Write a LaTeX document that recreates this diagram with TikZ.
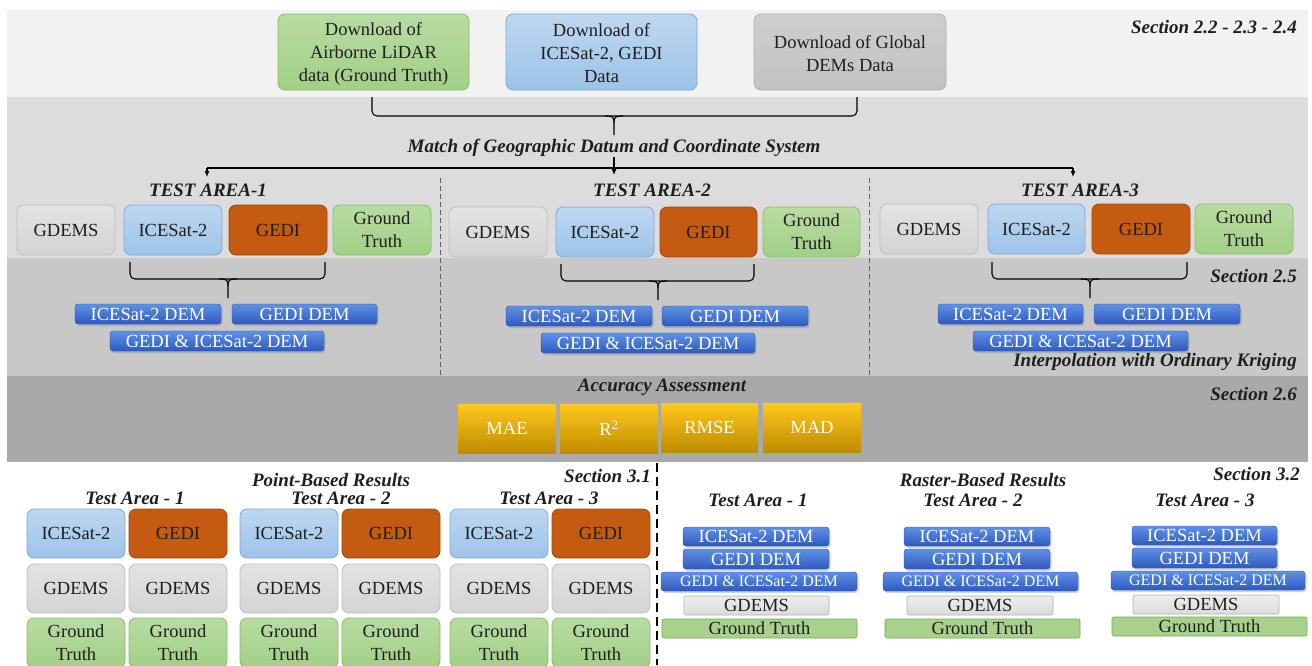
\documentclass[tikz,border=0pt]{standalone}
\usepackage{fontspec}
\setmainfont{Liberation Serif}
\usetikzlibrary{shadows,arrows.meta}
\definecolor{bandA}{HTML}{F2F2F2}
\definecolor{bandB}{HTML}{DCDCDC}
\definecolor{bandC}{HTML}{C8C8C8}
\definecolor{bandD}{HTML}{A9A9A9}
\definecolor{txt}{HTML}{1E1E1E}
\newcommand{\fsA}{\fontsize{18.5}{23}\selectfont}
\newcommand{\fsB}{\fontsize{19}{22}\selectfont\bfseries\itshape}
\newcommand{\fsC}{\fontsize{16}{19}\selectfont}
\newcommand{\bx}[7]{\node[#2,minimum width={(#5)-(#3)},minimum height={(#6)-(#4)}] (#1) at ({((#3)+(#5))/2},{((#4)+(#6))/2}) {#7};}
\newcommand{\brk}[7]{%
  \coordinate (#1L) at (#2,#5); \coordinate (#1R) at (#3,#5);
  \coordinate (#1T) at (#4,#7);
  \draw[conn,rounded corners=5pt] (#1L) -- (#2,#6) -- (#3,#6) -- (#1R);
  \draw[conn] ({#4-9},#6) .. controls ({#4-1},#6) and (#4,{#6+1}) .. (#4,{#6+7}) -- (#1T);
  \draw[conn] ({#4+9},#6) .. controls ({#4+1},#6) and (#4,{#6+1}) .. (#4,{#6+7});}
\begin{document}
\begin{tikzpicture}[x=1pt,y=-1pt,
  box/.style={rounded corners=7pt,line width=0.8pt,align=center,inner sep=1pt,font=\fsA,text=txt},
  graybox/.style={box,top color=gray!22,bottom color=gray!34,draw=gray!50},
  topgray/.style={box,top color=gray!38,bottom color=gray!48,draw=gray!62},
  bluebox/.style={box,top color={rgb,255:red,190;green,215;blue,240},bottom color={rgb,255:red,157;green,195;blue,232},draw={rgb,255:red,125;green,170;blue,220}},
  orangebox/.style={box,fill={rgb,255:red,197;green,90;blue,17},draw={rgb,255:red,160;green,70;blue,12}},
  greenbox/.style={box,top color={rgb,255:red,184;green,220;blue,162},bottom color={rgb,255:red,162;green,207;blue,134},draw={rgb,255:red,136;green,190;blue,104}},
  dlbox/.style={text depth=0pt,yshift=0pt},
  dem/.style={rounded corners=3pt,inner sep=0pt,font=\fsA,text=white,top color={rgb,255:red,95;green,145;blue,230},bottom color={rgb,255:red,45;green,90;blue,190},draw={rgb,255:red,40;green,80;blue,170},line width=0.4pt,drop shadow={shadow xshift=1.5pt,shadow yshift=-2pt,opacity=0.35}},
  demc/.style={dem,font=\fsC},
  rgray/.style={rounded corners=2pt,inner sep=0pt,font=\fsA,text=txt,top color=gray!14,bottom color=gray!28,draw=gray!60,line width=0.6pt},
  rgreen/.style={rounded corners=2pt,inner sep=0pt,font=\fsA,text=txt,fill={rgb,255:red,169;green,209;blue,142},draw={rgb,255:red,112;green,173;blue,71},line width=0.6pt},
  metric/.style={inner sep=0pt,font=\fsA,text=white,top color={rgb,255:red,255;green,200;blue,30},bottom color={rgb,255:red,190;green,140;blue,0},draw=none},
  lbl/.style={font=\fsB,text=txt,inner sep=0pt},
  conn/.style={line width=1.1pt,draw=black},
  arr/.style={conn,-{Latex[length=6pt,width=5pt]}},
  sep/.style={draw=gray!75!black,line width=0.6pt,dash pattern=on 5pt off 3pt},
  bigsep/.style={draw=black,line width=1.6pt,dash pattern=on 9pt off 5pt}]
\useasboundingbox (0,0) rectangle (1312,665);
\clip (0,0) rectangle (1312,665);
\fill[white] (0,0) rectangle (1312,665);
% bands
\fill[bandA] (7,10) rectangle (1308,97);
\fill[bandB] (7,97) rectangle (1308,258);
\fill[bandC] (7,258) rectangle (1308,376);
\fill[bandD] (7,376) rectangle (1308,462);
% top download boxes
\bx{dl1}{greenbox}{278}{14}{469}{90}{\strut Download of\\Airborne LiDAR\\data (Ground Truth)}
\bx{dl2}{bluebox}{506}{14}{697}{90}{\strut Download of\\ICESat-2, GEDI\\Data}
\bx{dl3}{topgray}{754}{14}{946}{90}{\strut Download of Global\\DEMs Data}
\node[lbl,anchor=east] (s1) at (1297,27) {Section 2.2 - 2.3 - 2.4};
% top brace
\coordinate (b0l) at (372,97);
\coordinate (b0r) at (857,97);
\draw[conn,rounded corners=5pt] (b0l) -- (372,116) -- (857,116) -- (b0r);
\draw[conn] (605,116) .. controls (613,116) and (614,117) .. (614,123) -- (614,135);
\draw[conn] (623,116) .. controls (615,116) and (614,117) .. (614,123);
\node[lbl] (match) at (614,148) {Match of Geographic Datum and Coordinate System};
\coordinate (hl) at (207,168);
\coordinate (hr) at (1073,168);
\draw[conn] (hl) -- (hr);
\draw[arr] (match.south) -- (614,175);
\node[lbl] (ta1) at (208,190) {TEST AREA-1};
\node[lbl] (ta2) at (652,190) {TEST AREA-2};
\node[lbl] (ta3) at (1080,190) {TEST AREA-3};
\draw[arr] (hl) -- (207,177);
\draw[arr] (hr) -- (1073,177);
% separators
\draw[sep] (440,178) -- (440,375);
\draw[sep] (869,178) -- (869,375);
% test area boxes
\bx{g1}{graybox}{17}{205}{115}{255}{GDEMS}
\bx{i1}{bluebox}{124}{205}{222}{255}{ICESat-2}
\bx{e1}{orangebox}{229}{205}{327}{255}{GEDI}
\bx{t1}{greenbox}{333}{205}{431}{255}{Ground\\Truth}
\bx{g2}{graybox}{449}{207}{547}{257}{GDEMS}
\bx{i2}{bluebox}{556}{207}{654}{257}{ICESat-2}
\bx{e2}{orangebox}{660}{207}{757}{257}{GEDI}
\bx{t2}{greenbox}{763}{207}{860}{257}{Ground\\Truth}
\bx{g3}{graybox}{880}{204}{978}{254}{GDEMS}
\bx{i3}{bluebox}{988}{204}{1085}{254}{ICESat-2}
\bx{e3}{orangebox}{1092}{204}{1190}{254}{GEDI}
\bx{t3}{greenbox}{1195}{204}{1293}{254}{Ground\\Truth}
% braces
\brk{k1}{130}{325}{228}{262}{279}{298}
\brk{k2}{561}{754}{658}{264}{281}{300}
\brk{k3}{992}{1187}{1090}{262}{279}{298}
% DEM boxes
\bx{d1a}{dem}{75}{304}{221}{324}{ICESat-2 DEM}
\bx{d1b}{dem}{232}{304}{377}{324}{GEDI DEM}
\bx{d1c}{dem}{110}{331}{324}{351}{GEDI \& ICESat-2 DEM}
\bx{d2a}{dem}{506}{306}{652}{326}{ICESat-2 DEM}
\bx{d2b}{dem}{662}{306}{808}{326}{GEDI DEM}
\bx{d2c}{dem}{541}{333}{755}{353}{GEDI \& ICESat-2 DEM}
\bx{d3a}{dem}{938}{304}{1083}{324}{ICESat-2 DEM}
\bx{d3b}{dem}{1094}{304}{1240}{324}{GEDI DEM}
\bx{d3c}{dem}{973}{331}{1188}{351}{GEDI \& ICESat-2 DEM}
\node[lbl,anchor=east] (s25) at (1297,276) {Section 2.5};
\node[lbl,anchor=east] (krig) at (1297,362) {Interpolation with Ordinary Kriging};
% accuracy
\node[lbl] (acc) at (662,387) {Accuracy Assessment};
\node[lbl,anchor=east] (s26) at (1297,394) {Section 2.6};
\bx{m1}{metric}{458}{404}{556}{453}{MAE}
\bx{m2}{metric}{560}{404}{658}{453}{R\textsuperscript{2}}
\bx{m3}{metric}{661}{403}{758}{452}{RMSE}
\bx{m4}{metric}{763}{403}{861}{452}{MAD}
% bottom separator
\draw[bigsep] (657,463) -- (657,665);
% point-based
\node[lbl,anchor=east] (s31) at (651,476) {Section 3.1};
\node[lbl] (pbr) at (331,480) {Point-Based Results};
\node[lbl] (pa1) at (135,498) {Test Area - 1};
\node[lbl] (pa2) at (341,498) {Test Area - 2};
\node[lbl] (pa3) at (549,498) {Test Area - 3};
\bx{p1i}{bluebox}{27}{509}{125}{558}{ICESat-2}
\bx{p1e}{orangebox}{129}{509}{227}{558}{GEDI}
\bx{p1g}{graybox}{27}{564}{125}{613}{GDEMS}
\bx{p1h}{graybox}{129}{564}{227}{613}{GDEMS}
\bx{p1t}{greenbox}{27}{618}{125}{668}{Ground\\Truth}
\bx{p1u}{greenbox}{129}{618}{227}{668}{Ground\\Truth}
\bx{p2i}{bluebox}{240}{509}{338}{558}{ICESat-2}
\bx{p2e}{orangebox}{342}{509}{440}{558}{GEDI}
\bx{p2g}{graybox}{240}{564}{338}{613}{GDEMS}
\bx{p2h}{graybox}{342}{564}{440}{613}{GDEMS}
\bx{p2t}{greenbox}{240}{618}{338}{668}{Ground\\Truth}
\bx{p2u}{greenbox}{342}{618}{440}{668}{Ground\\Truth}
\bx{p3i}{bluebox}{450}{509}{548}{558}{ICESat-2}
\bx{p3e}{orangebox}{552}{509}{650}{558}{GEDI}
\bx{p3g}{graybox}{450}{564}{548}{613}{GDEMS}
\bx{p3h}{graybox}{552}{564}{650}{613}{GDEMS}
\bx{p3t}{greenbox}{450}{618}{548}{668}{Ground\\Truth}
\bx{p3u}{greenbox}{552}{618}{650}{668}{Ground\\Truth}
% raster-based
\node[lbl,anchor=east] (s32) at (1300,474) {Section 3.2};
\node[lbl] (rbr) at (983,480) {Raster-Based Results};
\node[lbl] (ra1) at (758,500) {Test Area - 1};
\node[lbl] (ra2) at (973,500) {Test Area - 2};
\node[lbl] (ra3) at (1205,500) {Test Area - 3};
\bx{r1a}{dem}{683}{527}{829}{546}{ICESat-2 DEM}
\bx{r1b}{dem}{683}{549}{829}{569}{GEDI DEM}
\bx{r1c}{demc}{661}{572}{857}{591}{GEDI \& ICESat-2 DEM}
\bx{r1d}{rgray}{684}{596}{829}{615}{GDEMS}
\bx{r1e}{rgreen}{662}{619}{857}{638}{Ground Truth}
\bx{r2a}{dem}{904}{527}{1050}{546}{ICESat-2 DEM}
\bx{r2b}{dem}{904}{549}{1050}{569}{GEDI DEM}
\bx{r2c}{demc}{883}{572}{1078}{591}{GEDI \& ICESat-2 DEM}
\bx{r2d}{rgray}{907}{596}{1053}{615}{GDEMS}
\bx{r2e}{rgreen}{885}{619}{1080}{638}{Ground Truth}
\bx{r3a}{dem}{1132}{526}{1277}{545}{ICESat-2 DEM}
\bx{r3b}{dem}{1132}{548}{1277}{568}{GEDI DEM}
\bx{r3c}{demc}{1111}{571}{1305}{590}{GEDI \& ICESat-2 DEM}
\bx{r3d}{rgray}{1133}{595}{1279}{614}{GDEMS}
\bx{r3e}{rgreen}{1112}{617}{1307}{636}{Ground Truth}
\end{tikzpicture}
\end{document}
